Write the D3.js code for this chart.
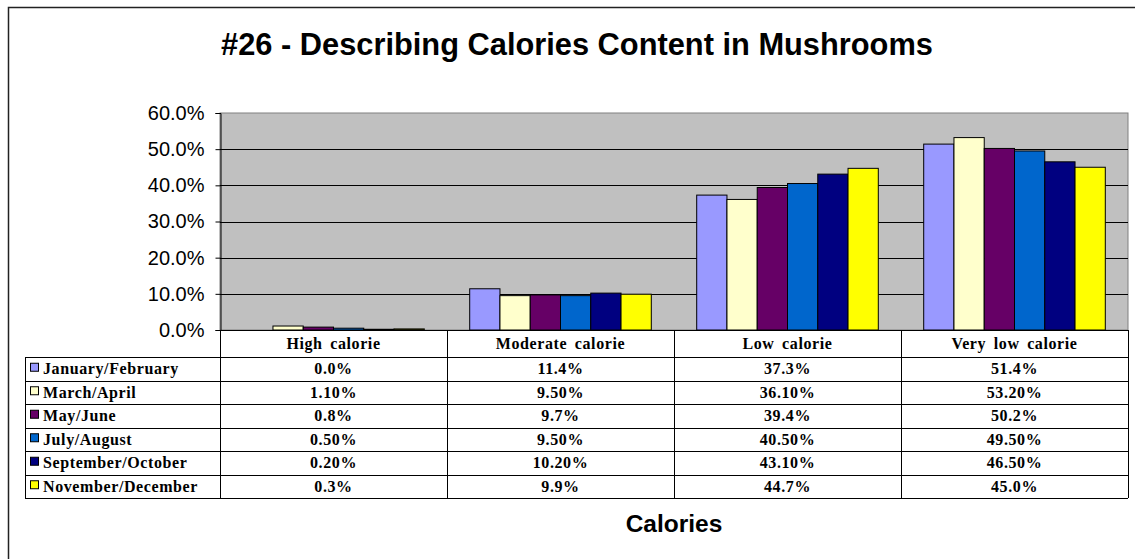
<!DOCTYPE html>
<html>
<head>
<meta charset="utf-8">
<script src="https://cdn.jsdelivr.net/npm/d3@7"></script>
<style>
  html, body { margin: 0; padding: 0; background: #ffffff; }
  svg { display: block; }
</style>
</head>
<body>
<svg id="chart" width="1135" height="559"></svg>
<script>
(() => {
  const categories = ["High calorie", "Moderate calorie", "Low calorie", "Very low calorie"];
  const seriesNames = [
    "January/February",
    "March/April",
    "May/June",
    "July/August",
    "September/October",
    "November/December",
  ];
  const seriesColors = ["#9999ff", "#ffffcc", "#660066", "#0066cc", "#000080", "#ffff00"];
  // values in percent, one array per series, in category order
  const janFeb = [0.0, 11.4, 37.3, 51.4];
  const marApr = [1.1, 9.5, 36.1, 53.2];
  const mayJun = [0.8, 9.7, 39.4, 50.2];
  const julAug = [0.5, 9.5, 40.5, 49.5];
  const sepOct = [0.2, 10.2, 43.1, 46.5];
  const novDec = [0.3, 9.9, 44.7, 45.0];
  // decimals shown in the data table for each series
  const tableDecimals = [1, 2, 1, 2, 2, 1];
  const yTicks = [0, 10, 20, 30, 40, 50, 60];

  const seriesValues = [janFeb, marApr, mayJun, julAug, sepOct, novDec];

  const plot = { left: 220, top: 113, right: 1128, bottom: 330 };
  const table = { left: 25, headerBottom: 357, bottom: 498 };
  const rowH = (table.bottom - table.headerBottom) / seriesNames.length;

  const svg = d3.select("#chart");

  // outer chart frame, right and bottom edges fall outside the view
  svg.append("rect")
    .attr("x", 8.5).attr("y", 7.5)
    .attr("width", 1140).attr("height", 570)
    .attr("fill", "none")
    .attr("stroke", "#222").attr("stroke-width", 1.5);

  svg.append("text")
    .attr("x", 577).attr("y", 55)
    .attr("text-anchor", "middle")
    .attr("font-family", "Liberation Sans, Arial, sans-serif")
    .attr("font-weight", "bold").attr("font-size", 30.8)
    .text("#26 - Describing Calories Content in Mushrooms");

  const x0 = d3.scaleBand().domain(categories).range([plot.left, plot.right]);
  const x1 = d3.scaleBand()
    .domain(d3.range(seriesNames.length))
    .range([x0.bandwidth() * 0.1, x0.bandwidth() * 0.9]);
  const y = d3.scaleLinear().domain([0, 60]).range([plot.bottom, plot.top]);

  svg.append("rect")
    .attr("x", plot.left).attr("y", plot.top)
    .attr("width", plot.right - plot.left).attr("height", plot.bottom - plot.top)
    .attr("fill", "#c0c0c0")
    .attr("stroke", "#808080").attr("stroke-width", 1);

  svg.append("g")
    .selectAll("line")
    .data(yTicks.filter((t) => t > 0 && t < 60))
    .join("line")
    .attr("x1", plot.left).attr("x2", plot.right)
    .attr("y1", (d) => Math.round(y(d)) + 0.5).attr("y2", (d) => Math.round(y(d)) + 0.5)
    .attr("stroke", "#000").attr("stroke-width", 1);

  const bars = [];
  seriesValues.forEach((vals, si) => {
    vals.forEach((v, ci) => bars.push({ si, ci, v }));
  });

  svg.append("g")
    .selectAll("rect")
    .data(bars.filter((d) => d.v > 0))
    .join("rect")
    .attr("x", (d) => x0(categories[d.ci]) + x1(d.si))
    .attr("y", (d) => y(d.v))
    .attr("width", x1.bandwidth())
    .attr("height", (d) => y(0) - y(d.v))
    .attr("fill", (d) => seriesColors[d.si])
    .attr("stroke", "#000").attr("stroke-width", 1);

  const yAxis = svg.append("g")
    .attr("transform", `translate(${plot.left + 0.5},0)`)
    .call(d3.axisLeft(y).tickValues(yTicks).tickSize(5).tickPadding(11)
      .tickFormat((d) => d.toFixed(1) + "%"));
  yAxis.select(".domain").attr("stroke", "#000");
  yAxis.selectAll("line").attr("stroke", "#000");
  yAxis.selectAll("text")
    .attr("font-family", "Liberation Sans, Arial, sans-serif")
    .attr("font-size", 20).attr("fill", "#000");

  // data table
  const tbl = svg.append("g")
    .attr("stroke", "#000").attr("stroke-width", 1).attr("fill", "none");

  tbl.append("line")
    .attr("x1", plot.left).attr("x2", plot.right)
    .attr("y1", plot.bottom + 0.5).attr("y2", plot.bottom + 0.5);

  tbl.selectAll("line.row")
    .data(d3.range(seriesNames.length + 1))
    .join("line")
    .attr("class", "row")
    .attr("x1", table.left).attr("x2", plot.right)
    .attr("y1", (i) => Math.round(table.headerBottom + i * rowH) + 0.5)
    .attr("y2", (i) => Math.round(table.headerBottom + i * rowH) + 0.5);

  tbl.selectAll("line.col")
    .data(categories.map((c) => x0(c)).concat([plot.right]))
    .join("line")
    .attr("class", "col")
    .attr("x1", (d) => Math.round(d) + 0.5).attr("x2", (d) => Math.round(d) + 0.5)
    .attr("y1", plot.bottom).attr("y2", table.bottom);

  tbl.append("line")
    .attr("x1", table.left + 0.5).attr("x2", table.left + 0.5)
    .attr("y1", table.headerBottom).attr("y2", table.bottom);

  const tableFont = (sel) => sel
    .attr("font-family", "Liberation Serif, Times New Roman, serif")
    .attr("font-weight", "bold").attr("font-size", 16)
    .attr("letter-spacing", 0.6)
    .attr("fill", "#000");

  svg.append("g")
    .selectAll("text")
    .data(categories)
    .join("text")
    .attr("x", (c) => x0(c) + x0.bandwidth() / 2)
    .attr("y", (plot.bottom + table.headerBottom) / 2 + 5.5)
    .attr("text-anchor", "middle")
    .call(tableFont)
    .attr("word-spacing", 3)
    .text((c) => c);

  const rows = svg.append("g")
    .selectAll("g")
    .data(seriesNames)
    .join("g")
    .attr("transform", (d, i) => `translate(0,${table.headerBottom + i * rowH + rowH / 2})`);

  rows.append("rect")
    .attr("x", 30.5).attr("y", -5.5)
    .attr("width", 8).attr("height", 8)
    .attr("fill", (d, i) => seriesColors[i])
    .attr("stroke", "#000").attr("stroke-width", 1);

  rows.append("text")
    .attr("x", 43).attr("y", 5.5)
    .call(tableFont)
    .text((d) => d);

  rows.each(function (name, si) {
    d3.select(this).selectAll("text.val")
      .data(seriesValues[si])
      .join("text")
      .attr("class", "val")
      .attr("x", (v, ci) => x0(categories[ci]) + x0.bandwidth() / 2)
      .attr("y", 5.5)
      .attr("text-anchor", "middle")
      .call(tableFont)
      .text((v) => v.toFixed(tableDecimals[si]) + "%");
  });

  svg.append("text")
    .attr("x", 674).attr("y", 532)
    .attr("text-anchor", "middle")
    .attr("font-family", "Liberation Sans, Arial, sans-serif")
    .attr("font-weight", "bold").attr("font-size", 24.5)
    .text("Calories");
})();
</script>
</body>
</html>
